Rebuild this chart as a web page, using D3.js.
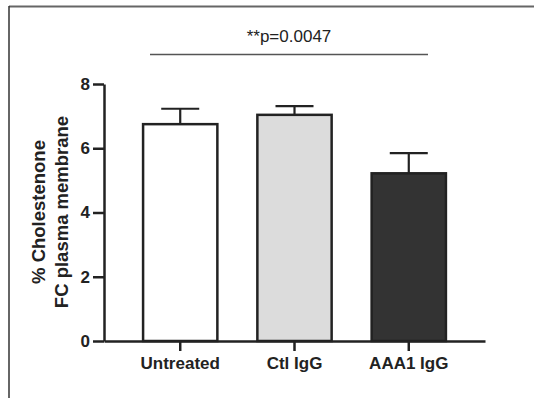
<!DOCTYPE html>
<html>
<head>
<meta charset="utf-8">
<script src="https://cdn.jsdelivr.net/npm/d3@7"></script>
<style>
  html, body { margin: 0; padding: 0; background: #fff; }
  svg { display: block; }
  text { font-family: "Liberation Sans", Arial, sans-serif; fill: #222; }
</style>
</head>
<body>
<svg id="chart" width="534" height="398"></svg>
<script>
// Group means and SEM of % cholestenone (FC plasma membrane)
const groups = ["Untreated", "Ctl IgG", "AAA1 IgG"];
const means = [6.75, 7.04, 5.22];
const sems = [0.48, 0.27, 0.63];
const yTicks = [0, 2, 4, 6, 8];
const pLabel = "**p=0.0047";
const yTitle = ["% Cholestenone", "FC plasma membrane"];

const fills = ["#ffffff", "#dcdcdc", "#333333"];
const ink = "#222";

const svg = d3.select("#chart");

// Panel frame (top and left edges)
svg.append("line").attr("x1", 9).attr("x2", 534).attr("y1", 6.5).attr("y2", 6.5)
  .attr("stroke", "#666").attr("stroke-width", 2);
svg.append("line").attr("x1", 9).attr("x2", 9).attr("y1", 6).attr("y2", 398)
  .attr("stroke", "#333").attr("stroke-width", 1.5);

const x = d3.scaleBand().domain(groups).range([104, 485])
  .paddingInner(0.35).paddingOuter(0.342);
const y = d3.scaleLinear().domain([0, 8]).range([341, 84]);

// Bars
svg.append("g").selectAll("rect").data(groups).join("rect")
  .attr("x", d => x(d))
  .attr("width", x.bandwidth())
  .attr("y", (d, i) => y(means[i]))
  .attr("height", (d, i) => y(0) - y(means[i]))
  .attr("fill", (d, i) => fills[i])
  .attr("stroke", ink).attr("stroke-width", 2.5);

// Upper error bars (SEM)
const capHalf = 19;
const eb = svg.append("g").attr("stroke", ink).attr("stroke-width", 2.2);
groups.forEach((g, i) => {
  const cx = x(g) + x.bandwidth() / 2;
  eb.append("line").attr("x1", cx).attr("x2", cx)
    .attr("y1", y(means[i])).attr("y2", y(means[i] + sems[i]));
  eb.append("line").attr("x1", cx - capHalf).attr("x2", cx + capHalf)
    .attr("y1", y(means[i] + sems[i])).attr("y2", y(means[i] + sems[i]));
});

// Y axis
const yAxis = svg.append("g").attr("transform", "translate(104,0)")
  .call(d3.axisLeft(y).tickValues(yTicks).tickSize(11).tickSizeOuter(0).tickPadding(3));
yAxis.select(".domain").attr("stroke", ink).attr("stroke-width", 2.5);
yAxis.selectAll(".tick line").attr("stroke", ink).attr("stroke-width", 2.5);
yAxis.selectAll(".tick text").attr("fill", ink)
  .style("font-family", "'Liberation Sans', Arial, sans-serif")
  .style("font-size", "17px").style("font-weight", "bold");

// X axis
const xAxis = svg.append("g").attr("transform", "translate(0,341)")
  .call(d3.axisBottom(x).tickSize(10).tickSizeOuter(0).tickPadding(6));
xAxis.select(".domain").attr("stroke", ink).attr("stroke-width", 2.5);
xAxis.selectAll(".tick line").attr("stroke", ink).attr("stroke-width", 2.5);
xAxis.selectAll(".tick text").attr("fill", ink)
  .style("font-family", "'Liberation Sans', Arial, sans-serif")
  .style("font-size", "17px").style("font-weight", "bold");

// Y axis title (two lines)
const yt = svg.append("text")
  .attr("transform", "translate(0,212) rotate(-90)")
  .attr("text-anchor", "middle")
  .style("font-size", "18.5px").style("font-weight", "bold");
yt.append("tspan").attr("x", 0).attr("y", 45).text(yTitle[0]);
yt.append("tspan").attr("x", 0).attr("y", 68).text(yTitle[1]);

// Significance bracket between Untreated and AAA1 IgG
svg.append("line").attr("x1", 150).attr("x2", 428).attr("y1", 54.5).attr("y2", 54.5)
  .attr("stroke", "#555").attr("stroke-width", 1.6);
svg.append("text").attr("x", 289).attr("y", 42).attr("text-anchor", "middle")
  .style("font-size", "17px").text(pLabel);
</script>
</body>
</html>
